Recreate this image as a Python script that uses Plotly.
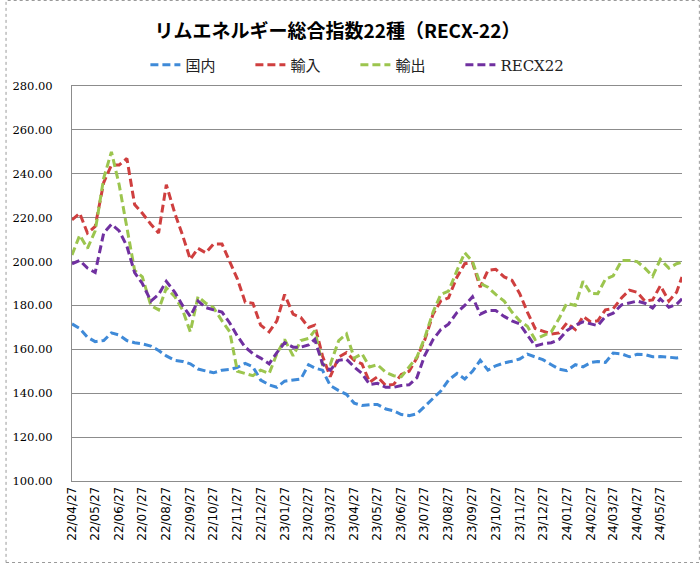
import plotly.graph_objects as go

# ---- data ----
dates = [
    "2022-04-27", "2022-05-07", "2022-05-17",
    "2022-05-27", "2022-06-07", "2022-06-17",
    "2022-06-27", "2022-07-07", "2022-07-17",
    "2022-07-27", "2022-08-07", "2022-08-17",
    "2022-08-27", "2022-09-07", "2022-09-17",
    "2022-09-27", "2022-10-07", "2022-10-17",
    "2022-10-27", "2022-11-07", "2022-11-17",
    "2022-11-27", "2022-12-07", "2022-12-17",
    "2022-12-27", "2023-01-07", "2023-01-17",
    "2023-01-27", "2023-02-07", "2023-02-17",
    "2023-02-27", "2023-03-07", "2023-03-17",
    "2023-03-27", "2023-04-07", "2023-04-17",
    "2023-04-27", "2023-05-07", "2023-05-17",
    "2023-05-27", "2023-06-07", "2023-06-17",
    "2023-06-27", "2023-07-07", "2023-07-17",
    "2023-07-27", "2023-08-07", "2023-08-17",
    "2023-08-27", "2023-09-07", "2023-09-17",
    "2023-09-27", "2023-10-07", "2023-10-17",
    "2023-10-27", "2023-11-07", "2023-11-17",
    "2023-11-27", "2023-12-07", "2023-12-17",
    "2023-12-27", "2024-01-07", "2024-01-17",
    "2024-01-27", "2024-02-07", "2024-02-17",
    "2024-02-27", "2024-03-07", "2024-03-17",
    "2024-03-27", "2024-04-07", "2024-04-17",
    "2024-04-27", "2024-05-07", "2024-05-17",
    "2024-05-27", "2024-06-07", "2024-06-17",
    "2024-06-24",
]

domestic = [
    171.6, 169.5, 165.5, 163.5, 164.0, 167.5, 166.5, 164.0, 163.0, 162.5,
    161.5, 159.5, 157.0, 155.0, 154.5, 153.4, 151.0, 150.3, 149.3, 150.5,
    150.8,
    151.8, 153.6, 152.0, 146.0, 143.8, 142.7, 145.5, 146.0, 146.5, 153.0,
    151.5, 150.5, 143.5, 141.2, 139.5, 135.5, 134.4, 134.8, 134.9,
    132.8, 132.0, 130.3, 129.8, 130.6, 134.0, 138.0, 141.0, 146.0, 149.0,
    146.5, 150.0, 155.0, 150.5, 152.5, 153.8, 154.6, 155.6, 157.8, 156.4,
    155.3, 153.0, 151.0, 150.3, 153.0, 152.0, 154.0, 154.5, 154.0, 158.3,
    157.9, 156.6, 157.7, 157.6, 156.6, 156.7, 156.4, 156.1, 156.4,
]

imports = [
    219.0, 222.0, 213.0, 216.0, 236.0, 244.0, 244.0, 247.0, 226.0, 222.0,
    217.0, 213.0, 235.0, 222.0, 212.0, 201.0, 206.0, 204.0, 208.0, 208.0,
    200.0,
    192.0, 181.5, 181.0, 171.0, 168.0, 173.0, 185.0, 176.0, 174.5, 170.0,
    171.0, 157.0, 147.5, 156.5, 158.5, 155.0, 153.4, 145.0, 147.5,
    143.5, 144.0, 148.5, 150.0, 156.0, 164.0, 176.0, 182.0, 183.5, 193.0,
    199.0, 199.5, 188.3, 196.0, 196.5, 193.0, 191.5, 185.5, 177.0, 169.5,
    168.3, 167.0, 167.5, 172.0, 169.0, 175.0, 172.5, 173.0, 178.0, 178.5,
    183.5, 187.0, 186.0, 182.0, 182.5, 189.0, 182.0, 186.0, 193.0,
]

exports = [
    203.0, 212.0, 206.0, 214.0, 238.0, 250.0, 235.0, 215.0, 196.0, 193.0,
    180.0, 178.0, 188.0, 184.0, 178.0, 168.0, 184.0, 181.0, 179.0, 173.0,
    168.0,
    150.0, 149.0, 148.0, 150.5, 149.0, 158.0, 164.5, 157.0, 164.0, 165.0,
    168.5, 153.0, 153.0, 164.0, 167.0, 156.0, 158.0, 152.0, 153.0,
    149.5, 148.0, 147.5, 152.0, 156.4, 165.0, 177.0, 185.0, 186.5, 196.0,
    204.0, 200.0, 190.0, 188.3, 185.0, 182.0, 177.0, 173.0, 170.5, 164.5,
    166.0, 168.0, 174.0, 181.0, 180.0, 191.0, 185.5, 185.3, 192.0, 193.5,
    200.5, 200.5, 200.0, 197.0, 193.3, 201.0, 197.0, 199.0, 199.7,
]

recx22 = [
    199.0, 200.5, 197.0, 195.0, 213.0, 217.0, 214.0, 207.0, 195.0, 190.0,
    182.0, 185.0, 191.0, 186.0, 180.0, 175.0, 182.0, 179.0, 178.0, 177.0,
    172.0,
    166.0, 161.0, 158.0, 156.0, 153.4, 158.5, 163.0, 161.0, 161.0, 162.0,
    164.5, 153.4, 150.5, 155.0, 155.5, 152.0, 149.0, 144.0, 144.5,
    142.7, 142.7, 143.5, 143.8, 147.0, 157.0, 164.5, 169.0, 171.5, 176.8,
    180.0, 184.0, 176.0, 177.7, 177.7, 175.0, 173.0, 171.6, 166.5, 161.5,
    162.5, 163.0, 164.5, 168.5, 171.0, 172.5, 171.6, 170.8, 175.0, 176.5,
    180.3, 181.0, 182.0, 181.0, 178.8, 183.0, 179.2, 180.5, 183.0,
]

series_names = ["国内", "輸入", "輸出", "RECX22"]
series_values = [domestic, imports, exports, recx22]
series_colors = ["#3f8ad8", "#cf3f3f", "#9cc54e", "#7030a0"]

tick_dates = [
    "2022-04-27", "2022-05-27", "2022-06-27", "2022-07-27", "2022-08-27",
    "2022-09-27", "2022-10-27", "2022-11-27", "2022-12-27", "2023-01-27",
    "2023-02-27", "2023-03-27", "2023-04-27", "2023-05-27", "2023-06-27",
    "2023-07-27", "2023-08-27", "2023-09-27", "2023-10-27", "2023-11-27",
    "2023-12-27", "2024-01-27", "2024-02-27", "2024-03-27", "2024-04-27",
    "2024-05-27",
]

title_text = "リムエネルギー総合指数22種（RECX-22）"

# ---- figure ----
fig = go.Figure()
for name, vals, col in zip(series_names, series_values, series_colors):
    fig.add_trace(go.Scatter(
        x=dates, y=vals, name=name, mode="lines",
        line=dict(color=col, width=3, dash="8px,4px"),
    ))

W, H = 700, 563
ml, mr, mt, mb = 67, 18, 86, 82
pw, ph = W - ml - mr, H - mt - mb

fig.update_layout(
    width=W, height=H,
    margin=dict(l=ml, r=mr, t=mt, b=mb),
    paper_bgcolor="white", plot_bgcolor="white",
    title=dict(
        text="<b>" + title_text + "</b>",
        x=337.5 / W, xref="container", xanchor="center",
        y=1 - 31 / H, yref="container", yanchor="middle",
        font=dict(family="Noto Sans CJK JP", size=19, color="black"),
    ),
    legend=dict(
        orientation="h",
        x=(141 - ml) / pw, xanchor="left",
        y=(H - mb - 65) / ph, yanchor="middle",
        entrywidth=60, entrywidthmode="pixels",
        itemwidth=30,
        font=dict(family="DejaVu Serif, Noto Sans CJK JP", size=15, color="#222"),
        bgcolor="rgba(0,0,0,0)",
        traceorder="normal",
    ),
    showlegend=True,
    xaxis=dict(
        type="date",
        range=["2022-04-27", "2024-06-24"],
        tickmode="array", tickvals=tick_dates,
        tickformat="%y/%m/%d",
        tickangle=-90,
        showgrid=False,
        showline=True, linecolor="#8c8c8c", linewidth=1, mirror=True,
        ticks="",
        tickfont=dict(family="DejaVu Sans", size=12, color="black"),
        zeroline=False,
    ),
    yaxis=dict(
        range=[100, 280], tick0=100, dtick=20,
        tickformat=".2f",
        showgrid=True, gridcolor="#8c8c8c", gridwidth=1,
        showline=True, linecolor="#8c8c8c", linewidth=1,
        ticks="", ticklabelstandoff=16,
        tickfont=dict(family="DejaVu Serif", size=11.5, color="black"),
        zeroline=False,
    ),
    shapes=[dict(
        type="rect", xref="paper", yref="paper",
        x0=-(ml - 0.5) / pw, x1=1 + (mr - 0.5) / pw,
        y0=-(mb - 0.5) / ph, y1=1 + (mt - 0.5) / ph,
        line=dict(color="#9a9a9a", width=1, dash="dot"),
        fillcolor="rgba(0,0,0,0)", layer="below",
    )],
)

fig.write_html(
    "out.html",
    config={"displayModeBar": False},
    post_script="document.body.style.margin='0';document.body.style.overflow='hidden';",
)
